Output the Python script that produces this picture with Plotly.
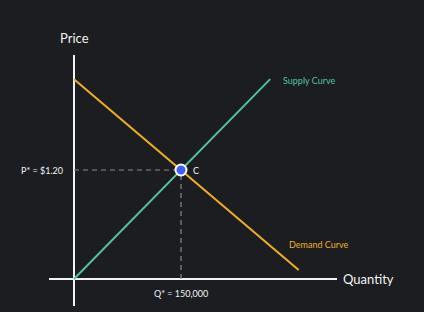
import plotly.graph_objects as go

# Data
supply_q = [0, 275000]
supply_p = [0.0, 2.2]
demand_q = [0, 315000]
demand_p = [2.2, 0.1]
eq_q = [150000]
eq_p = [1.20]
eq_label = "C"
p_label = "P* = $1.20"
q_label = "Q* = 150,000"
supply_name = "Supply Curve"
demand_name = "Demand Curve"
x_title = "Quantity"
y_title = "Price"

BG = "#1c1d21"
TEAL = "#4fc2a4"
GOLD = "#f2b01e"
BLUE = "#3f5ef7"
DASH = "#8a8a8a"
WHITE = "#f2f2f2"
FONT = "Lato"

fig = go.Figure()

# dashed guides to equilibrium
fig.add_trace(go.Scatter(x=[0, eq_q[0]], y=[eq_p[0], eq_p[0]], mode="lines",
                         line=dict(color=DASH, width=1.2, dash="5px,4px"), hoverinfo="skip"))
fig.add_trace(go.Scatter(x=[eq_q[0], eq_q[0]], y=[0, eq_p[0]], mode="lines",
                         line=dict(color=DASH, width=1.2, dash="5px,4px"), hoverinfo="skip"))

fig.add_trace(go.Scatter(x=demand_q, y=demand_p, mode="lines",
                         line=dict(color=GOLD, width=2), name=demand_name))
fig.add_trace(go.Scatter(x=supply_q, y=supply_p, mode="lines",
                         line=dict(color=TEAL, width=2), name=supply_name))
fig.add_trace(go.Scatter(x=eq_q, y=eq_p, mode="markers",
                         marker=dict(color=BLUE, size=11, line=dict(color="white", width=2)),
                         cliponaxis=False))

# annotations
fig.add_annotation(x=supply_q[1], y=supply_p[1], text=supply_name, showarrow=False,
                   xanchor="left", yanchor="middle", xshift=11, yshift=-1,
                   font=dict(color=TEAL, size=9, family=FONT))
fig.add_annotation(x=demand_q[1], y=demand_p[1], text=demand_name, showarrow=False,
                   xanchor="left", yanchor="middle", xshift=-12, yshift=25,
                   font=dict(color=GOLD, size=9, family=FONT))
fig.add_annotation(x=eq_q[0], y=eq_p[0], text=eq_label, showarrow=False,
                   xanchor="left", yanchor="middle", xshift=10,
                   font=dict(color=WHITE, size=9, family=FONT))
fig.add_annotation(x=0, y=eq_p[0], text=p_label, showarrow=False,
                   xanchor="right", yanchor="middle", xshift=-9,
                   font=dict(color=WHITE, size=9, family=FONT))
fig.add_annotation(x=eq_q[0], y=0, text=q_label, showarrow=False,
                   xanchor="center", yanchor="top", yshift=-7,
                   font=dict(color=WHITE, size=9, family=FONT))
fig.add_annotation(x=1, y=0, xref="paper", text=x_title, showarrow=False,
                   xanchor="left", yanchor="middle", xshift=4,
                   font=dict(color=WHITE, size=13, family=FONT))
fig.add_annotation(x=0, y=1, yref="paper", text=y_title, showarrow=False,
                   xanchor="center", yanchor="bottom", yshift=7,
                   font=dict(color=WHITE, size=13, family=FONT))

fig.update_layout(
    width=424, height=312,
    margin=dict(l=49, r=87, t=55, b=6),
    paper_bgcolor=BG, plot_bgcolor=BG,
    showlegend=False,
    xaxis=dict(range=[-35047, 368700], showgrid=False, showticklabels=False, ticks="",
               zeroline=True, zerolinecolor=WHITE, zerolinewidth=2, showline=False, fixedrange=True),
    yaxis=dict(range=[-0.2972, 2.466], showgrid=False, showticklabels=False, ticks="",
               zeroline=True, zerolinecolor=WHITE, zerolinewidth=2, showline=False, fixedrange=True),
)

fig.write_html("out.html")
